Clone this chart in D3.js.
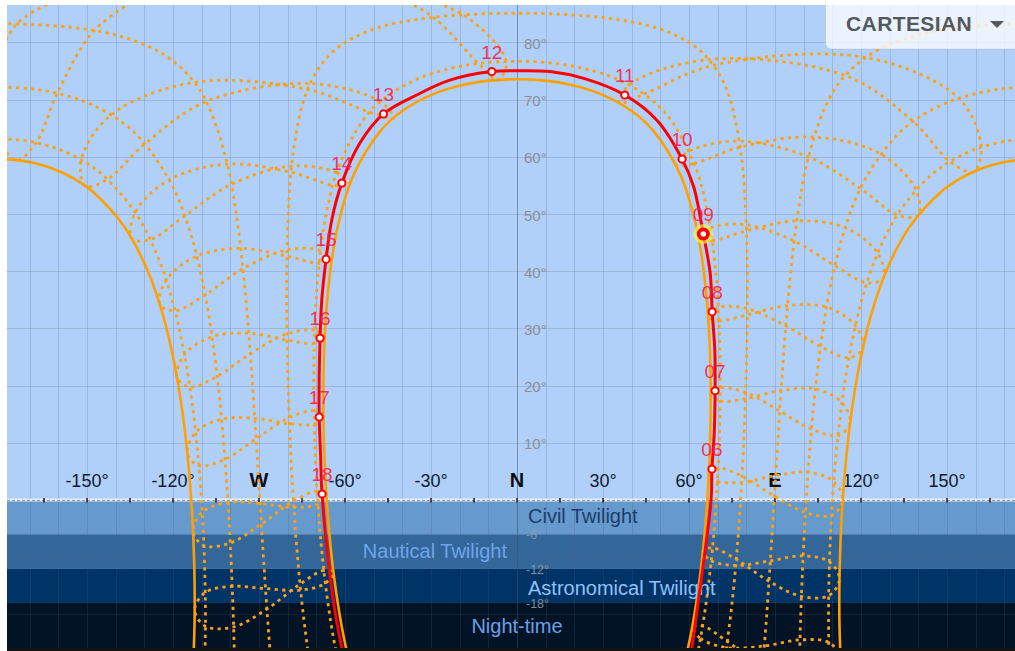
<!DOCTYPE html>
<html><head><meta charset="utf-8">
<script src="https://cdn.jsdelivr.net/npm/d3@7"></script>
<style>
html,body{margin:0;padding:0;background:#fff;overflow:hidden;}
svg{display:block;font-family:"Liberation Sans",Arial,Helvetica,sans-serif;}
</style></head><body>
<svg id="c" width="1015" height="651"></svg>
<script>
// ---------------- DATA (azimuth°, altitude°) ----------------
const azTicks = [-150, -120, -90, -60, -30, 0, 30, 60, 90, 120, 150];
const azTickLabels = ["-150°", "-120°", "W", "-60°", "-30°", "N", "30°", "60°", "E", "120°", "150°"];
const altTicks = [10, 20, 30, 40, 50, 60, 70, 80];
const altTickLabels = ["10°", "20°", "30°", "40°", "50°", "60°", "70°", "80°"];
const twilightTicks = [-6, -12, -18];
const twilightTickLabels = ["-6°", "-12°", "-18°"];
const bandNames = ["Civil Twilight", "Nautical Twilight", "Astronomical Twilight", "Night-time"];
const bandTop = [0, -6, -12, -18];
const bandBottom = [-6, -12, -18, -26.5];

// today's sun path (red) and its hourly markers
const sunPathToday = [[61.0,-25.9],[63.3,-17.5],[67.7,0],[68.0,5.4],[68.8,11.7],[69.1,19.1],[69.0,26.2],[68.1,32.9],[67.4,39.6],[65.0,46.5],[61.6,54.8],[57.6,59.6],[48.8,66.4],[37.6,70.8],[23.3,73.7],[11.5,74.9],[0,75.05],[-8.8,74.9],[-23.4,73.4],[-35.0,70.8],[-46.6,67.5],[-54.8,62.4],[-61.1,55.4],[-64.6,49.0],[-66.6,42.1],[-68.1,35.0],[-68.7,28.3],[-69.0,21.6],[-69.0,14.5],[-68.5,7.6],[-68.0,1.05],[-64.1,-17.5],[-61.1,-25.9]];
const hourNames = ["06","07","08","09","10","11","12","13","14","15","16","17","18"];
const hourPoints = [[68.0,5.4],[69.1,19.1],[68.1,32.9],[65.0,46.5],[57.6,59.6],[37.6,70.8],[-8.8,74.9],[-46.6,67.5],[-61.1,55.4],[-66.6,42.1],[-68.7,28.3],[-69.0,14.5],[-68.0,1.05]];
const currentHour = "09";

// solstice paths (solid orange)
const pathJune = [[56.42,-32.47],[60.43,-24.01],[63.33,-15.25],[65.37,-6.30],[66.72,2.78],[67.44,11.92],[67.53,21.10],[66.90,30.25],[65.32,39.33],[62.33,48.25],[57.00,56.84],[47.28,64.72],[39.62,68.14],[29.23,70.96],[18.68,72.58],[9.63,73.31],[0,73.56],[-9.63,73.31],[-18.68,72.58],[-29.23,70.96],[-39.62,68.14],[-47.28,64.72],[-57.00,56.84],[-62.33,48.25],[-65.32,39.33],[-66.90,30.25],[-67.53,21.10],[-67.44,11.92],[-66.72,2.78],[-65.37,-6.30],[-63.33,-15.25],[-60.43,-24.01],[-56.42,-32.47]];
const pathDecMorning = [[113.10,-30.25],[112.47,-21.10],[112.56,-11.92],[113.28,-2.78],[114.63,6.30],[116.67,15.25],[119.57,24.01],[123.58,32.47],[129.17,40.47],[136.98,47.75],[147.88,53.83],[154.72,56.21],[162.49,58.03],[169.27,59.00],[174.58,59.42],[180,59.56]];
const pathDecAfternoon = [[-180,59.56],[-174.58,59.42],[-169.27,59.00],[-162.49,58.03],[-154.72,56.21],[-147.88,53.83],[-136.98,47.75],[-129.17,40.47],[-123.58,32.47],[-119.57,24.01],[-116.67,15.25],[-114.63,6.30],[-113.28,-2.78],[-112.56,-11.92],[-112.47,-21.10],[-113.10,-30.25]];

// monthly date paths (dotted)
const pathMayJul = [[59.82,-33.79],[63.69,-25.03],[66.49,-16.03],[68.48,-6.86],[69.84,2.42],[70.64,11.77],[70.89,21.14],[70.53,30.51],[69.34,39.84],[66.93,49.06],[62.38,58.04],[53.55,66.50],[46.06,70.30],[35.09,73.54],[23.03,75.48],[12.04,76.39],[0,76.70],[-12.04,76.39],[-23.03,75.48],[-35.09,73.54],[-46.06,70.30],[-53.55,66.50],[-62.38,58.04],[-66.93,49.06],[-69.34,39.84],[-70.53,30.51],[-70.89,21.14],[-70.64,11.77],[-69.84,2.42],[-68.48,-6.86],[-66.49,-16.03],[-63.69,-25.03],[-59.82,-33.79]];
const pathAprAug = [[72.68,-27.42],[75.05,-17.88],[76.84,-8.25],[78.19,1.44],[79.19,11.17],[79.89,20.93],[80.29,30.71],[80.31,40.50],[79.79,50.27],[78.29,60.02],[74.53,69.68],[70.55,74.42],[62.83,78.99],[49.92,82.32],[30.91,84.28],[0,85.10],[-30.91,84.28],[-49.92,82.32],[-62.83,78.99],[-70.55,74.42],[-74.53,69.68],[-78.29,60.02],[-79.79,50.27],[-80.31,40.50],[-80.29,30.71],[-79.89,20.93],[-79.19,11.17],[-78.19,1.44],[-76.84,-8.25],[-75.05,-17.88],[-72.68,-27.42]];
const pathMarSepAM = [[85.63,-29.71],[87.14,-19.81],[88.47,-9.89],[89.70,0.04],[90.93,9.96],[92.22,19.88],[93.68,29.80],[95.45,39.69],[97.81,49.55],[101.35,59.34],[107.73,68.96],[113.50,73.61],[123.48,77.98],[137.98,81.02],[155.81,82.66],[180,83.30]];
const pathMarSepPM = [[-180,83.30],[-155.81,82.66],[-137.98,81.02],[-123.48,77.98],[-113.50,73.61],[-107.73,68.96],[-101.35,59.34],[-97.81,49.55],[-95.45,39.69],[-93.68,29.80],[-92.22,19.88],[-90.93,9.96],[-89.70,0.04],[-88.47,-9.89],[-87.14,-19.81],[-85.63,-29.71]];
const pathFebOctAM = [[98.43,-30.69],[98.93,-20.87],[99.69,-11.08],[100.72,-1.31],[102.06,8.42],[103.81,18.10],[106.12,27.69],[109.26,37.15],[113.74,46.39],[120.53,55.23],[131.62,63.29],[139.87,66.77],[150.69,69.61],[161.39,71.22],[170.45,71.95],[180,72.20]];
const pathFebOctPM = [[-180,72.20],[-170.45,71.95],[-161.39,71.22],[-150.69,69.61],[-139.87,66.77],[-131.62,63.29],[-120.53,55.23],[-113.74,46.39],[-109.26,37.15],[-106.12,27.69],[-103.81,18.10],[-102.06,8.42],[-100.72,-1.31],[-99.69,-11.08],[-98.93,-20.87],[-98.43,-30.69]];
const pathJanNovAM = [[109.01,-30.54],[108.67,-21.14],[108.95,-11.74],[109.76,-2.38],[111.12,6.93],[113.11,16.12],[115.89,25.16],[119.74,33.95],[125.15,42.33],[132.92,50.06],[144.17,56.67],[151.52,59.32],[160.08,61.36],[167.73,62.46],[173.79,62.94],[180,63.10]];
const pathJanNovPM = [[-180,63.10],[-173.79,62.94],[-167.73,62.46],[-160.08,61.36],[-151.52,59.32],[-144.17,56.67],[-132.92,50.06],[-125.15,42.33],[-119.74,33.95],[-115.89,25.16],[-113.11,16.12],[-111.12,6.93],[-109.76,-2.38],[-108.95,-11.74],[-108.67,-21.14],[-109.01,-30.54]];

// hour lines (analemma loops, Jun..May)
const hour04 = [[61.12,-22.21],[63.99,-24.21],[73.13,-25.81],[86.31,-25.51],[98.72,-24.45],[108.73,-24.90],[112.83,-27.56],[109.03,-30.82],[98.40,-31.57],[85.74,-29.07],[73.42,-24.76],[64.74,-22.02]];
const hour05 = [[64.85,-8.93],[67.75,-10.61],[76.30,-11.44],[88.37,-10.63],[99.81,-9.76],[109.00,-10.81],[112.49,-13.80],[108.74,-16.72],[99.21,-16.85],[87.91,-14.20],[76.49,-10.38],[68.20,-8.36]];
const hour06 = [[66.92,4.67],[69.94,3.28],[78.38,3.09],[90.22,4.26],[101.53,4.88],[110.51,3.21],[113.61,-0.09],[109.73,-2.66],[100.62,-2.19],[89.78,0.68],[78.50,4.16],[70.17,5.57]];
const hour07 = [[67.57,18.41],[70.86,17.32],[79.70,17.71],[92.12,19.14],[104.09,19.40],[113.35,17.04],[116.19,13.42],[111.97,11.27],[102.72,12.40],[91.65,15.57],[79.77,18.79],[70.89,19.62]];
const hour08 = [[66.66,32.15],[70.45,31.38],[80.32,32.37],[94.39,34.00],[107.99,33.72],[118.04,30.47],[120.62,26.54],[115.79,24.89],[105.88,26.83],[93.79,30.44],[80.34,33.45],[70.23,33.67]];
const hour09 = [[63.40,45.67],[68.10,45.33],[80.04,47.05],[97.60,48.81],[114.49,47.61],[125.81,43.14],[127.87,38.88],[122.05,37.95],[110.89,40.97],[96.69,45.27],[79.96,48.12],[67.43,47.57]];
const hour10 = [[55.44,58.54],[61.79,58.86],[77.88,61.68],[103.53,63.46],[126.88,60.48],[139.17,54.21],[139.84,49.69],[132.64,49.85],[119.78,54.47],[101.65,59.98],[77.57,62.75],[60.05,60.98]];
const hour11 = [[35.68,69.40],[44.33,70.95],[68.51,76.00],[121.55,77.36],[154.10,70.23],[161.94,61.68],[159.20,57.36],[151.04,59.17],[138.21,66.18],[114.48,74.20],[66.92,77.01],[39.12,72.57]];
const hour12North = [[-50,90],[-29.19,84.38],[-13.48,76.30],[-6.69,73.44],[-3.77,76.67],[-18.76,84.82],[-50,90]];
const hour12South = [[-128,89],[-147.50,82.07],[-160.39,71.11],[-167.73,62.46],[-174.67,59.43],[-180.62,63.10],[-182.89,72.18],[-174.45,83.27],[-152,89]];
const hour13 = [[-43.09,66.78],[-47.67,69.63],[-72.17,72.82],[-108.43,69.66],[-129.76,62.28],[-142.85,56.08],[-150.57,54.87],[-152.00,59.46],[-141.61,67.33],[-112.58,73.01],[-73.06,71.78],[-51.42,67.78]];
const hour14 = [[-58.37,55.10],[-62.93,57.22],[-78.65,58.37],[-99.63,55.19],[-115.88,49.68],[-127.92,45.53],[-134.40,45.70],[-133.19,50.28],[-121.32,56.00],[-101.06,58.71],[-78.86,57.30],[-64.24,55.05]];
const hour15 = [[-64.63,41.97],[-68.54,43.62],[-80.21,43.72],[-95.61,40.43],[-108.77,35.88],[-119.30,33.08],[-124.58,34.16],[-122.37,38.46],[-111.69,42.63],[-96.38,43.99],[-80.25,42.65],[-69.05,41.35]];
const hour16 = [[-67.09,28.36],[-70.59,29.65],[-80.24,29.05],[-93.03,25.59],[-104.58,21.61],[-114.11,19.76],[-118.61,21.45],[-115.98,25.43],[-106.36,28.55],[-93.58,29.15],[-80.21,27.97],[-70.73,27.35]];
const hour17 = [[-67.53,14.61],[-70.81,15.59],[-79.46,14.39],[-91.02,10.71],[-101.86,7.11],[-110.96,6.00],[-114.99,8.14],[-112.09,11.82],[-103.04,14.14],[-91.48,14.28],[-79.37,13.32],[-70.72,13.29]];
const hour18 = [[-66.49,0.89],[-69.74,1.56],[-77.98,-0.21],[-89.18,-4.18],[-100.03,-7.51],[-109.21,-7.99],[-113.01,-5.47],[-109.80,-2.10],[-100.83,-0.43],[-89.62,-0.61],[-77.85,-1.28],[-69.44,-0.72]];
const hour19 = [[-64.00,-12.65],[-67.39,-12.31],[-75.70,-14.71],[-87.25,-19.06],[-98.85,-22.20],[-108.68,-22.08],[-112.43,-19.22],[-108.75,-16.16],[-99.35,-15.09],[-87.74,-15.49],[-75.49,-15.77],[-66.86,-14.55]];

// ---------------- DRAWING ----------------
const L = 7, T = 5, R = 1015, B = 648;
const x = d3.scaleLinear().domain([-180, 180]).range([517 - 516, 517 + 516]);
const y = d3.scaleLinear().domain([0, 80]).range([500, 42.4]);

const svg = d3.select("#c");
svg.append("defs").append("clipPath").attr("id", "plot")
  .append("rect").attr("x", L).attr("y", T).attr("width", R - L).attr("height", B - T);

const g = svg.append("g").attr("clip-path", "url(#plot)");
g.append("rect").attr("x", L).attr("y", T).attr("width", R - L).attr("height", B - T).attr("fill", "#b1d0f9");

const bandColors = ["#6699cc", "#336699", "#003366", "#021325"];
bandNames.forEach((n, i) => {
  g.append("rect").attr("x", L).attr("width", R - L)
    .attr("y", y(bandTop[i])).attr("height", y(bandBottom[i]) - y(bandTop[i]))
    .attr("fill", bandColors[i]);
});

// grid
const grid = g.append("g");
d3.range(-180, 181, 10).forEach(a => {
  const px = Math.round(x(a)) + 0.5;
  grid.append("line").attr("x1", px).attr("x2", px).attr("y1", T).attr("y2", B)
    .attr("stroke", a === 0 ? "rgba(70,75,85,0.5)" : "rgba(80,95,120,0.22)").attr("stroke-width", 1);
});
d3.range(-20, 81, 10).forEach(h => {
  if (h === 0) return;
  const py = Math.round(y(h)) + 0.5;
  grid.append("line").attr("x1", L).attr("x2", R).attr("y1", py).attr("y2", py)
    .attr("stroke", "rgba(80,95,120,0.22)").attr("stroke-width", 1);
});

// horizon
g.append("line").attr("x1", L).attr("x2", R).attr("y1", y(0)).attr("y2", y(0))
  .attr("stroke", "#e4edf9").attr("stroke-width", 3);
g.append("line").attr("x1", L).attr("x2", R).attr("y1", y(0) + 0.5).attr("y2", y(0) + 0.5)
  .attr("stroke", "#8a95a6").attr("stroke-width", 1.2).attr("stroke-dasharray", "3,2");
d3.range(-180, 181, 15).forEach(a => {
  g.append("line").attr("x1", x(a)).attr("x2", x(a)).attr("y1", y(0) - 2).attr("y2", y(0) + 2.5)
    .attr("stroke", "#1a1a1a").attr("stroke-width", 1.5);
});

// axis labels
const labels = g.append("g");
azTicks.forEach((a, i) => {
  const compass = ["N", "E", "W"].includes(azTickLabels[i]);
  labels.append("text").attr("x", x(a)).attr("y", y(0) - 13)
    .attr("text-anchor", "middle")
    .attr("font-size", compass ? 20 : 18).attr("font-weight", compass ? "bold" : "normal")
    .attr("fill", compass ? "#0b0b10" : "#101a30").text(azTickLabels[i]);
});
altTicks.forEach((h, i) => {
  labels.append("text").attr("x", x(0) + 7).attr("y", y(h) + 1)
    .attr("dominant-baseline", "central").attr("font-size", 15)
    .attr("fill", "#8a8f98").text(altTickLabels[i]);
});
twilightTicks.forEach((h, i) => {
  labels.append("text").attr("x", x(0) + 9).attr("y", y(h) + 1)
    .attr("dominant-baseline", "central").attr("font-size", 12.5)
    .attr("fill", "rgba(150,160,175,0.85)").text(twilightTickLabels[i]);
});

// dotted date & hour lines
const lineGen = d3.line().x(d => x(d[0])).y(d => y(d[1])).curve(d3.curveCatmullRom.alpha(0.5));
const loopGen = d3.line().x(d => x(d[0])).y(d => y(d[1])).curve(d3.curveCatmullRomClosed.alpha(0.5));
const dotted = g.append("g").attr("fill", "none").attr("stroke", "#f7a21a")
  .attr("stroke-width", 2.8).attr("stroke-dasharray", "3.2,4.3");
[pathMayJul, pathAprAug, pathMarSepAM, pathMarSepPM, pathFebOctAM, pathFebOctPM, pathJanNovAM, pathJanNovPM, hour12North, hour12South]
  .forEach(p => dotted.append("path").attr("d", lineGen(p)));
[hour04, hour05, hour06, hour07, hour08, hour09, hour10, hour11, hour13, hour14, hour15, hour16, hour17, hour18, hour19]
  .forEach(p => dotted.append("path").attr("d", loopGen(p)));

// solstice paths
const solid = g.append("g").attr("fill", "none").attr("stroke", "#ffa000").attr("stroke-width", 2.6);
[pathJune, pathDecMorning, pathDecAfternoon].forEach(p => solid.append("path").attr("d", lineGen(p)));

// band labels
const bandLabelX = [x(0) + 11, x(0) - 10, x(0) + 11, x(0)];
const bandAnchor = ["start", "end", "start", "middle"];
const bandTextColor = ["#1c3e6e", "#6fa4ea", "#8fc2fb", "#6aa0e8"];
const bandLabelDy = [-1, 0, 2, 0];
bandNames.forEach((n, i) => {
  g.append("text").attr("x", bandLabelX[i]).attr("y", y((bandTop[i] + Math.max(bandBottom[i], -26)) / 2) + bandLabelDy[i])
    .attr("dominant-baseline", "central").attr("text-anchor", bandAnchor[i])
    .attr("font-size", 20).attr("fill", bandTextColor[i]).text(n);
});

// today's path
g.append("path").attr("d", lineGen(sunPathToday)).attr("fill", "none")
  .attr("stroke", "#ff0000").attr("stroke-width", 3);

// hour markers
hourPoints.forEach((p, i) => {
  const px = x(p[0]), py = y(p[1]);
  if (hourNames[i] === currentHour) {
    g.append("circle").attr("cx", px).attr("cy", py).attr("r", 10).attr("fill", "rgba(255,248,60,0.6)");
    g.append("circle").attr("cx", px).attr("cy", py).attr("r", 6.5).attr("fill", "#ff0000");
    g.append("circle").attr("cx", px).attr("cy", py).attr("r", 2.8).attr("fill", "#ffffff");
  } else {
    g.append("circle").attr("cx", px).attr("cy", py).attr("r", 3.6)
      .attr("fill", "#ffffff").attr("stroke", "#ff0000").attr("stroke-width", 2);
  }
  g.append("text").attr("x", px).attr("y", py - 13).attr("text-anchor", "middle")
    .attr("font-size", 19).attr("fill", "#f5234f").attr("fill-opacity", 0.92).text(hourNames[i]);
});

// bottom strip
svg.append("rect").attr("x", L).attr("y", B).attr("width", R - L).attr("height", 651 - B).attr("fill", "#121212");

// projection button
svg.append("rect").attr("x", 825.5).attr("y", -8).attr("width", 200).attr("height", 57).attr("rx", 6)
  .attr("fill", "rgba(255,255,255,0.74)").attr("stroke", "rgba(0,0,0,0.08)");
svg.append("text").attr("x", 846).attr("y", 31).attr("font-size", 21).attr("font-weight", "bold")
  .attr("fill", "#54585f").attr("letter-spacing", 0.4).text("CARTESIAN");
svg.append("path").attr("d", "M990,21 L1004,21 L997,28 Z").attr("fill", "#54585f");
</script></body></html>
